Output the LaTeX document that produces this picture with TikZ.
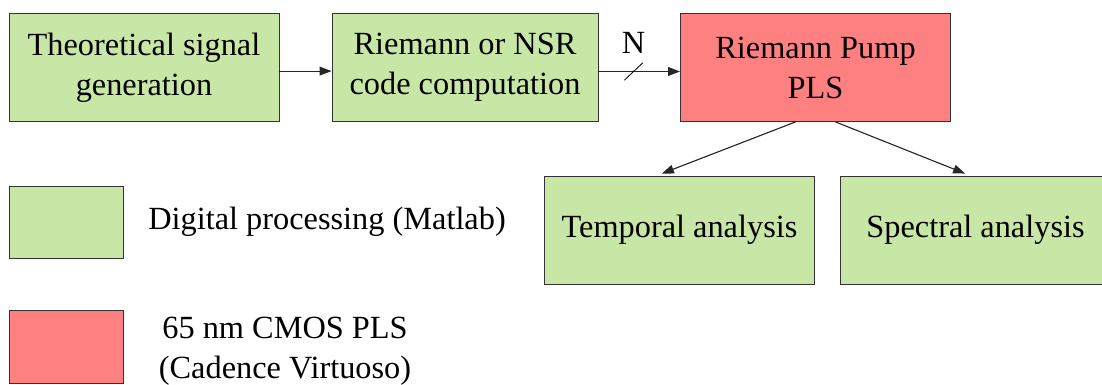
\documentclass[tikz,border=0pt]{standalone}
\usepackage{fontspec}
\setmainfont{Liberation Serif}
\usetikzlibrary{arrows.meta}
\definecolor{matlabgreen}{RGB}{200,230,166}
\definecolor{cmosred}{RGB}{255,128,128}

\begin{document}
\begin{tikzpicture}[x=0.025cm,y=-0.025cm,>={Triangle[length=3mm,width=2.2mm]},
  font=\fontsize{23}{28.5}\selectfont,line cap=round,
  blockbox/.style={draw=black!80,line width=0.6pt,align=center,inner sep=0pt,
    minimum width=6.75cm,minimum height=2.7cm},
  digital/.style={blockbox,fill=matlabgreen},
  cmos/.style={blockbox,fill=cmosred},
  legendbox/.style={draw=black!80,line width=0.6pt,minimum width=2.85cm,minimum height=1.82cm,inner sep=0pt},
  flow/.style={->,line width=0.8pt,black!85}]
\useasboundingbox (0,0) rectangle (1102,385);
\node[digital] (gen) at (144,67.5) {Theoretical signal\\generation};
\node[digital,minimum width=6.65cm] (code) at (465,67.5) {Riemann or NSR\\code computation};
\node[cmos] (pump) at (815.5,67.5) {Riemann Pump\\PLS};
\node[digital] (temporal) at (679.5,230) {Temporal analysis};
\node[digital] (spectral) at (975.5,230) {Spectral analysis};
\draw[flow] ([yshift=-0.09cm]gen.east) -- ([yshift=-0.09cm]code.west);
\draw[flow] ([yshift=-0.1cm]code.east) -- coordinate[pos=0.43] (bus) ([yshift=-0.1cm]pump.west);
\draw[line width=0.6pt] ([shift={(-9,8.5)}]bus) -- ([shift={(9,-8.5)}]bus);
\node[above=0.45cm,inner sep=0pt] (buslabel) at (bus) {N};
\draw[flow] ([xshift=-0.5cm]pump.south) -- ([xshift=-0.44cm,yshift=0.05cm]temporal.north);
\draw[flow] ([xshift=0.5cm]pump.south) -- ([xshift=-0.26cm,yshift=0.05cm]spectral.north);
% legend
\node[legendbox,fill=matlabgreen] (keydigital) at (66.5,222.5) {};
\node[anchor=west,inner sep=0pt] (keydigitaltext) at (148,222) {Digital processing (Matlab)};
\node[legendbox,fill=cmosred] (keycmos) at (66.5,347) {};
\node[align=center,inner sep=0pt] (keycmostext) at (285,351) {65 nm CMOS PLS\\(Cadence Virtuoso)};
\end{tikzpicture}
\end{document}
